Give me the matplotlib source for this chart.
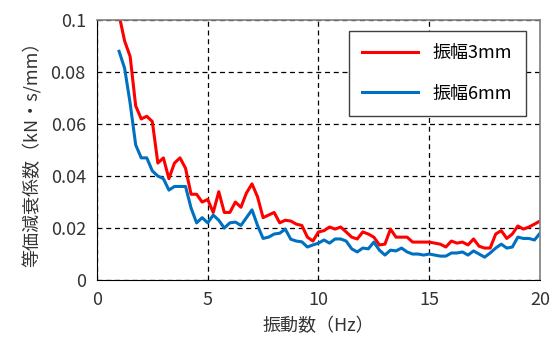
import numpy as np
import matplotlib
matplotlib.use('Agg')
import matplotlib.pyplot as plt

plt.rcParams['font.family'] = ['Noto Sans CJK JP', 'DejaVu Sans']

# frequency grid (Hz), 0.25 Hz steps from 1 to 20
freq = np.linspace(1, 20, 77)

amp3mm = [0.102, 0.092, 0.086, 0.067, 0.062, 0.063, 0.061, 0.045, 0.047, 0.039,
          0.045, 0.047, 0.043, 0.033, 0.033, 0.030, 0.031, 0.026, 0.034, 0.026,
          0.026, 0.030, 0.028, 0.0335, 0.037, 0.032, 0.024, 0.025, 0.026, 0.022,
          0.023, 0.0227, 0.0215, 0.021, 0.0165, 0.015, 0.0185, 0.019, 0.0204, 0.0196,
          0.0204, 0.0185, 0.0165, 0.0158, 0.0185, 0.0177, 0.0165, 0.0135, 0.0138, 0.0196,
          0.0165, 0.0165, 0.0165, 0.0146, 0.0146, 0.0146, 0.0146, 0.0142, 0.0138, 0.0127,
          0.015, 0.0142, 0.0146, 0.0135, 0.0158, 0.013, 0.0123, 0.0123, 0.0177, 0.019,
          0.016, 0.0177, 0.0208, 0.0196, 0.0204, 0.0215, 0.0227]

amp6mm = [0.088, 0.0815, 0.068, 0.052, 0.047, 0.047, 0.042, 0.040, 0.039, 0.0346,
          0.036, 0.036, 0.036, 0.0277, 0.022, 0.024, 0.022, 0.025, 0.023, 0.020,
          0.022, 0.0223, 0.021, 0.024, 0.027, 0.021, 0.016, 0.0165, 0.0177, 0.018,
          0.0196, 0.0157, 0.015, 0.0147, 0.0127, 0.0135, 0.0142, 0.0154, 0.0142, 0.0158,
          0.0158, 0.015, 0.012, 0.0108, 0.0123, 0.012, 0.0146, 0.0115, 0.0096, 0.0115,
          0.0112, 0.0123, 0.0108, 0.010, 0.010, 0.0096, 0.010, 0.0096, 0.0092, 0.0092,
          0.0104, 0.0104, 0.0108, 0.0096, 0.0112, 0.010, 0.0088, 0.0104, 0.0123, 0.0138,
          0.0123, 0.0127, 0.0165, 0.016, 0.016, 0.0154, 0.018]

xticks = [0, 5, 10, 15, 20]
yticks = [0, 0.02, 0.04, 0.06, 0.08, 0.1]
ytick_labels = ['0', '0.02', '0.04', '0.06', '0.08', '0.1']

fig = plt.figure(figsize=(5.57, 3.47), dpi=100)
ax = fig.add_axes([0.174, 0.193, 0.7955, 0.749])

ax.plot(freq, amp3mm, color='#FF0000', lw=2.2, label='振幅3mm')
ax.plot(freq, amp6mm, color='#0070C0', lw=2.2, label='振幅6mm')

ax.set_xlim(0, 20)
ax.set_ylim(0, 0.1)
ax.set_xticks(xticks)
ax.set_yticks(yticks)
ax.set_yticklabels(ytick_labels)
ax.tick_params(length=0, labelsize=13, pad=8, colors='#333333')
ax.grid(True, color='black', linestyle=(0, (4, 3)), lw=0.9)

for s in ['left', 'bottom']:
    ax.spines[s].set_color('black')
for s in ['top', 'right']:
    ax.spines[s].set_color('#7f7f7f')
    ax.spines[s].set_linewidth(1.2)

ax.set_xlabel('振動数（Hz）', fontsize=13, color='#333333', labelpad=6)
ax.set_ylabel('等価減衰係数（kN・s/mm）', fontsize=13, color='#333333', labelpad=6)

leg = ax.legend(loc='upper right', bbox_to_anchor=(0.968, 0.96), fontsize=13,
                fancybox=False, edgecolor='#404040', framealpha=1,
                handlelength=3.1, borderpad=0.75, labelspacing=1.25, borderaxespad=0)
leg.get_frame().set_linewidth(1.0)

fig.savefig('out.png', dpi=100)
